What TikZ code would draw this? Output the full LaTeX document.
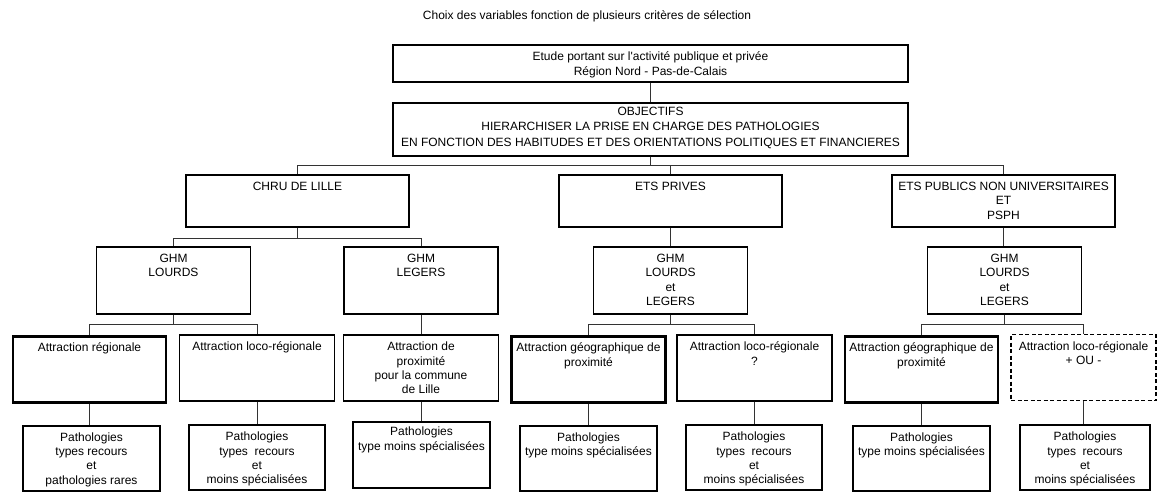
\documentclass[tikz,border=0pt]{standalone}
\usepackage{fontspec}
\setmainfont{Liberation Sans}
\usetikzlibrary{positioning}

\tikzset{
  box/.style={draw, line width=1.3pt, inner sep=0pt},
  strong/.style={line width=2.8pt},
  dotbox/.style={dash pattern=on 4pt off 2.5pt},
  topbox/.style={box, minimum width=515pt},
  cbox/.style={box, minimum width=223pt, minimum height=52pt},
  dbox/.style={box, minimum width=154pt, minimum height=67pt},
  ebox/.style={box, minimum width=155pt, minimum height=66pt},
  fbox/.style={box, minimum width=137pt, minimum height=65pt},
  txt/.style={anchor=north, inner sep=0pt, align=center, yshift=-7.5pt,
              font=\fontsize{12}{14.4}\selectfont},
  link/.style={draw=black!80, line width=0.8pt}
}

\begin{document}
\begin{tikzpicture}[x=1pt, y=-1pt]
\useasboundingbox (0,0) rectangle (1157,491);

\node[font=\fontsize{12}{14.4}\selectfont] (title) at (587,16)
  {Choix des variables fonction de plusieurs critères de sélection};

% Etude et objectifs
\node[topbox, minimum height=37pt,
  label={[txt]north:{Etude portant sur l\textquotesingle activité publique et privée\\Région Nord - Pas-de-Calais}}]
  (etude) at (650.5,63.5) {};
\node[topbox, minimum height=53pt,
  label={[txt, yshift=3pt, font=\fontsize{12}{15.5}\selectfont]north:{OBJECTIFS\\HIERARCHISER LA PRISE EN CHARGE DES PATHOLOGIES\\EN FONCTION DES HABITUDES ET DES ORIENTATIONS POLITIQUES ET FINANCIERES}}]
  (objectifs) at (650.5,129.5) {};

% Etablissements
\node[cbox, label={[txt]north:{CHRU DE LILLE}}] (chru) at (297.5,201) {};
\node[cbox, label={[txt]north:{ETS PRIVES}}] (prives) at (670.5,201) {};
\node[cbox, label={[txt]north:{ETS PUBLICS NON UNIVERSITAIRES\\ET\\PSPH}}] (publics) at (1003.5,201) {};

% GHM
\node[dbox, label={[txt]north:{GHM\\LOURDS}}] (lourds) at (173.5,280.5) {};
\node[dbox, label={[txt]north:{GHM\\LEGERS}}] (legers) at (421,280.5) {};
\node[dbox, label={[txt]north:{GHM\\LOURDS\\et\\LEGERS}}] (mixteA) at (670.5,280.5) {};
\node[dbox, label={[txt]north:{GHM\\LOURDS\\et\\LEGERS}}] (mixteB) at (1004.5,280.5) {};

% Attractions
\node[ebox, strong, minimum width=153pt, label={[txt]north:{Attraction régionale}}] (regA) at (89.5,369.5) {};
\node[ebox, label={[txt]north:{Attraction loco-régionale}}] (locoA) at (257,368) {};
\node[ebox, label={[txt]north:{Attraction de\\proximité\\pour la commune\\de Lille}}] (proxA) at (421,368) {};
\node[ebox, strong, minimum width=154pt, label={[txt]north:{Attraction géographique de\\proximité}}] (geoA) at (588.5,369.5) {};
\node[ebox, label={[txt]north:{Attraction loco-régionale\\?}}] (locoB) at (754.5,368) {};
\node[ebox, strong, minimum width=153pt, label={[txt]north:{Attraction géographique de\\proximité}}] (geoB) at (921.5,369.5) {};
\node[ebox, dotbox, minimum width=145pt, label={[txt]north:{Attraction loco-régionale\\+ OU -}}] (locoC) at (1083.5,367.5) {};

% Pathologies
\node[fbox, strong, label={[txt]north:{Pathologies\\types recours\\et\\pathologies rares}}] (pathA) at (91.5,458.5) {};
\node[fbox, minimum width=136pt, label={[txt]north:{Pathologies\\types\ \ recours\\et\\moins spécialisées}}] (pathB) at (257,457.5) {};
\node[fbox, minimum height=66pt, label={[txt, yshift=2pt]north:{Pathologies\\type moins spécialisées}}] (pathC) at (421.5,455) {};
\node[fbox, strong, label={[txt]north:{Pathologies\\type moins spécialisées}}] (pathD) at (588.5,458.5) {};
\node[fbox, minimum width=136pt, label={[txt]north:{Pathologies\\types\ \ recours\\et\\moins spécialisées}}] (pathE) at (754,457.5) {};
\node[fbox, strong, label={[txt]north:{Pathologies\\type moins spécialisées}}] (pathF) at (921.5,458.5) {};
\node[fbox, minimum width=130pt, label={[txt]north:{Pathologies\\types\ \ recours\\et\\moins spécialisées}}] (pathG) at (1085,457.5) {};

% Liaisons
\draw[link] (etude.south) -- (objectifs.north);
\draw[link] (objectifs.south) -- ++(0,9) -| (chru.north);
\draw[link] (objectifs.south) -- ++(0,9) -| (prives.north);
\draw[link] (objectifs.south) -- ++(0,9) -| (publics.north);

\draw[link] (chru.south) -- ++(0,10.5) -| (lourds.north);
\draw[link] (chru.south) -- ++(0,10.5) -| (legers.north);
\draw[link] (prives.south) -- (mixteA.north);
\draw[link] (publics.south) -- (publics.south |- mixteB.north);

\draw[link] (lourds.south) -- ++(0,10) -| (regA.north);
\draw[link] (lourds.south) -- ++(0,10) -| (locoA.north);
\draw[link] (legers.south) -- (proxA.north);
\draw[link] (mixteA.south) -- ++(0,10) -| (geoA.north);
\draw[link] (mixteA.south) -- ++(0,10) -| (locoB.north);
\draw[link] (mixteB.south) -- ++(0,10) -| (geoB.north);
\draw[link] (mixteB.south) -- ++(0,10) -| (locoC.north);

\draw[link] (regA.south) -- (regA.south |- pathA.north);
\draw[link] (locoA.south) -- (locoA.south |- pathB.north);
\draw[link] (proxA.south) -- (proxA.south |- pathC.north);
\draw[link] (geoA.south) -- (geoA.south |- pathD.north);
\draw[link] (locoB.south) -- (locoB.south |- pathE.north);
\draw[link] (geoB.south) -- (geoB.south |- pathF.north);
\draw[link] (locoC.south) -- (locoC.south |- pathG.north);
\end{tikzpicture}
\end{document}
